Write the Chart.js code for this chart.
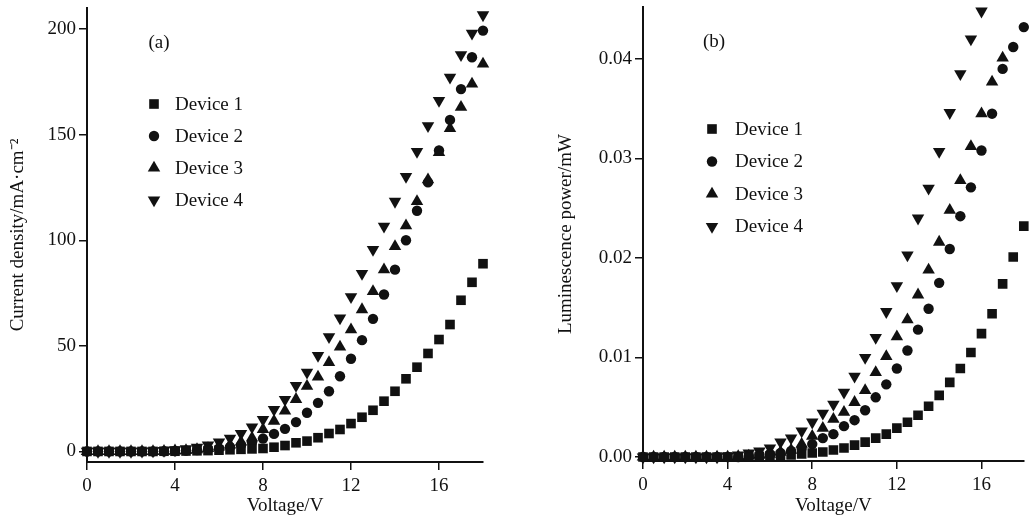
<!DOCTYPE html>
<html>
<head>
<meta charset="utf-8">
<script src="https://cdn.jsdelivr.net/npm/chart.js@4/dist/chart.umd.min.js"></script>
<style>
  html, body { margin: 0; padding: 0; background: #fff; }
  body { width: 1031px; height: 521px; position: relative; overflow: hidden; }
  #wrapA { position: absolute; left: 0; top: 0; width: 500px; height: 521px; }
  #wrapB { position: absolute; left: 500px; top: 0; width: 531px; height: 521px; }
</style>
</head>
<body>
<div id="wrapA"><canvas id="chartA" width="500" height="521"></canvas></div>
<div id="wrapB"><canvas id="chartB" width="531" height="521"></canvas></div>
<script>
// 電圧 (V) 0 〜 18, 0.5刻み
const voltage = [0, 0.5, 1, 1.5, 2, 2.5, 3, 3.5, 4, 4.5, 5, 5.5, 6, 6.5, 7, 7.5, 8, 8.5, 9,
  9.5, 10, 10.5, 11, 11.5, 12, 12.5, 13, 13.5, 14, 14.5, 15, 15.5, 16, 16.5, 17, 17.5, 18];

const deviceLabels = ['Device 1', 'Device 2', 'Device 3', 'Device 4'];

// (a) 電流密度 mA/cm2
const currentDevice1 = [0, 0, 0, 0, 0, 0, 0, 0.1, 0.1, 0.2, 0.3, 0.4, 0.6, 0.8, 1.0, 1.2, 1.4, 2.0, 2.8,
  4.1, 4.9, 6.5, 8.5, 10.4, 13.2, 16.2, 19.5, 23.8, 28.5, 34.4, 39.9, 46.4, 53, 60.1, 71.6, 80.1, 88.9];
const currentDevice2 = [0, 0, 0, 0, 0, 0, 0, 0.1, 0.2, 0.4, 0.6, 0.9, 1.4, 2.1, 3.0, 4.3, 6.1, 8.3, 10.7,
  13.9, 18.3, 23, 28.5, 35.6, 43.9, 52.7, 62.8, 74.3, 86.1, 100, 114, 127.4, 142.5, 157, 171.6, 186.7, 199.3];
const currentDevice3 = [0, 0, 0, 0, 0, 0, 0, 0.1, 0.3, 0.5, 0.9, 1.4, 2.1, 3.1, 4.5, 6.4, 10.4, 14.4, 19.2,
  24.7, 30.9, 35.3, 42.2, 49.5, 57.7, 67.2, 75.8, 86.1, 97.1, 106.9, 118.4, 128.7, 141.6, 153, 163, 174, 183.5];
const currentDevice4 = [0, 0, 0, 0, 0, 0.1, 0.2, 0.4, 0.7, 1.2, 1.9, 3.0, 4.4, 6.2, 8.5, 11.5, 15.1, 19.8, 24.6,
  31.2, 37.5, 45.4, 54.3, 63.2, 73.2, 84.2, 95.6, 106.6, 118.4, 130.2, 142, 154.2, 166.2, 177.2, 187.8, 198, 206.7];

// (b) 発光パワー mW (枠外の点は null)
const powerDevice1 = [0, 0, 0, 0, 0, 0, 0, 0, 0, 0, 0, 0.00005, 0.0001, 0.00015, 0.0002, 0.0003, 0.0004, 0.0005, 0.0007,
  0.0009, 0.0012, 0.0015, 0.0019, 0.0023, 0.0029, 0.0035, 0.0042, 0.0051, 0.0062, 0.0075, 0.0089, 0.0105, 0.0124, 0.0144, 0.0174, 0.0201, 0.0232];
const powerDevice2 = [0, 0, 0, 0, 0, 0, 0, 0, 0, 0, 0.0001, 0.0002, 0.0003, 0.0004, 0.0006, 0.0009, 0.0013, 0.0019, 0.0023,
  0.0031, 0.0037, 0.0047, 0.006, 0.0073, 0.0089, 0.0107, 0.0128, 0.0149, 0.0175, 0.0209, 0.0242, 0.0271, 0.0308, 0.0345, 0.039, 0.0412, 0.0432];
const powerDevice3 = [0, 0, 0, 0, 0, 0, 0, 0, 0, 0.00005, 0.0001, 0.0002, 0.0003, 0.0005, 0.0007, 0.0013, 0.0021, 0.0029, 0.0038,
  0.0045, 0.0055, 0.0067, 0.0085, 0.0101, 0.0121, 0.0138, 0.0163, 0.0188, 0.0216, 0.0248, 0.0278, 0.0312, 0.0345, 0.0377, 0.0401, null, null];
const powerDevice4 = [0, 0, 0, 0, 0, 0, 0, 0, 0.0001, 0.0002, 0.0004, 0.0006, 0.0009, 0.0015, 0.0019, 0.0026, 0.0035, 0.0044, 0.0053,
  0.0065, 0.0081, 0.01, 0.012, 0.0146, 0.0172, 0.0203, 0.024, 0.027, 0.0307, 0.0346, 0.0385, 0.042, 0.0448, null, null, null, null];

// 目盛り
const voltageTicks = [0, 4, 8, 12, 16];
const currentTicks = [0, 50, 100, 150, 200];
const powerTicks = [0, 0.01, 0.02, 0.03, 0.04];

const FONT = "'Liberation Serif', 'Times New Roman', serif";
const INK = '#111';

// マーカー: ■ ● ▲ ▼
const markers = [
  { pointStyle: 'rect', rotation: 0, radius: 6.8 },
  { pointStyle: 'circle', rotation: 0, radius: 5.2 },
  { pointStyle: 'triangle', rotation: 0, radius: 7.2 },
  { pointStyle: 'triangle', rotation: 180, radius: 7.2 }
];

function toPoints(values) {
  return voltage.map((v, i) => ({ x: v, y: values[i] }));
}

function makeDatasets(seriesList) {
  return seriesList.map((values, i) => ({
    label: deviceLabels[i],
    data: toPoints(values),
    pointStyle: markers[i].pointStyle,
    rotation: markers[i].rotation,
    pointRadius: markers[i].radius,
    pointBackgroundColor: INK,
    pointBorderWidth: 0,
    pointBorderColor: INK,
    showLine: false,
    clip: { left: 10, right: 10, top: 2, bottom: 10 }
  }));
}

// 凡例とパネル記号 (a)/(b) をプロット内に描く
const panelLegend = {
  id: 'panelLegend',
  afterDatasetsDraw(chart, args, opts) {
    const ctx = chart.ctx;
    ctx.save();
    ctx.fillStyle = INK;
    ctx.font = '19px ' + FONT;
    ctx.textBaseline = 'middle';
    ctx.textAlign = 'center';
    ctx.fillText(opts.tag, opts.tagX, opts.tagY);
    ctx.textAlign = 'left';
    chart.data.datasets.forEach((ds, i) => {
      const y = opts.y + i * opts.gap;
      const style = { pointStyle: ds.pointStyle, rotation: ds.rotation, radius: ds.pointRadius, borderWidth: 0 };
      ctx.fillStyle = INK;
      Chart.helpers.drawPoint(ctx, style, opts.x, y);
      ctx.fillStyle = INK;
      ctx.fillText(ds.label, opts.textX, y + 1);
    });
    ctx.restore();
  }
};

function makeChart(canvasId, cfg) {
  const ctx = document.getElementById(canvasId);
  return new Chart(ctx, {
    type: 'scatter',
    data: { datasets: makeDatasets(cfg.series) },
    options: {
      responsive: false,
      animation: false,
      events: [],
      layout: { padding: cfg.padding },
      plugins: {
        legend: { display: false },
        tooltip: { enabled: false },
        panelLegend: cfg.legend
      },
      scales: {
        x: {
          type: 'linear',
          min: 0,
          max: 18,
          afterFit(scale) {
            scale.height = cfg.xHeight;
            scale.paddingLeft = 0;
            scale.paddingRight = 0;
          },
          afterBuildTicks(scale) { scale.ticks = voltageTicks.map(v => ({ value: v })); },
          grid: { display: true, drawOnChartArea: false, drawTicks: true, tickLength: 8, color: INK, lineWidth: 1.5 },
          border: { display: true, color: INK, width: 2 },
          ticks: { color: INK, font: { family: FONT, size: 19 }, padding: 5, maxRotation: 0 },
          title: { display: true, text: 'Voltage/V', color: INK, font: { family: FONT, size: 19 }, padding: { top: 0, bottom: 4 } }
        },
        y: {
          type: 'linear',
          min: cfg.yMin,
          max: cfg.yMax,
          afterFit(scale) {
            scale.width = cfg.yWidth;
            scale.paddingTop = 0;
            scale.paddingBottom = 0;
          },
          afterBuildTicks(scale) { scale.ticks = cfg.yTicks.map(v => ({ value: v })); },
          grid: { display: true, drawOnChartArea: false, drawTicks: true, tickLength: 8, color: INK, lineWidth: 1.5 },
          border: { display: true, color: INK, width: 2 },
          ticks: { color: INK, font: { family: FONT, size: 19 }, padding: 3, callback: cfg.yFormat },
          title: { display: true, text: cfg.yTitle, color: INK, font: { family: FONT, size: 19 }, padding: { top: cfg.yTitlePad, bottom: 0 } }
        }
      }
    },
    plugins: [panelLegend]
  });
}

makeChart('chartA', {
  series: [currentDevice1, currentDevice2, currentDevice3, currentDevice4],
  padding: { top: 8, right: 17, left: 0, bottom: 0 },
  xHeight: 59,
  yWidth: 87,
  yMin: -5,
  yMax: 210,
  yTicks: currentTicks,
  yFormat: v => String(v),
  yTitle: 'Current density/mA·cm⁻²',
  yTitlePad: 7,
  legend: { tag: '(a)', tagX: 159, tagY: 43, x: 154, y: 104, gap: 32, textX: 175 }
});

makeChart('chartB', {
  series: [powerDevice1, powerDevice2, powerDevice3, powerDevice4],
  padding: { top: 7, right: 1, left: 0, bottom: 0 },
  xHeight: 60,
  yWidth: 143,
  yMin: -0.0004,
  yMax: 0.0452,
  yTicks: powerTicks,
  yFormat: v => v.toFixed(2),
  yTitle: 'Luminescence power/mW',
  yTitlePad: 55,
  legend: { tag: '(b)', tagX: 214, tagY: 42, x: 212, y: 129, gap: 32.5, textX: 235 }
});
</script>
</body>
</html>
